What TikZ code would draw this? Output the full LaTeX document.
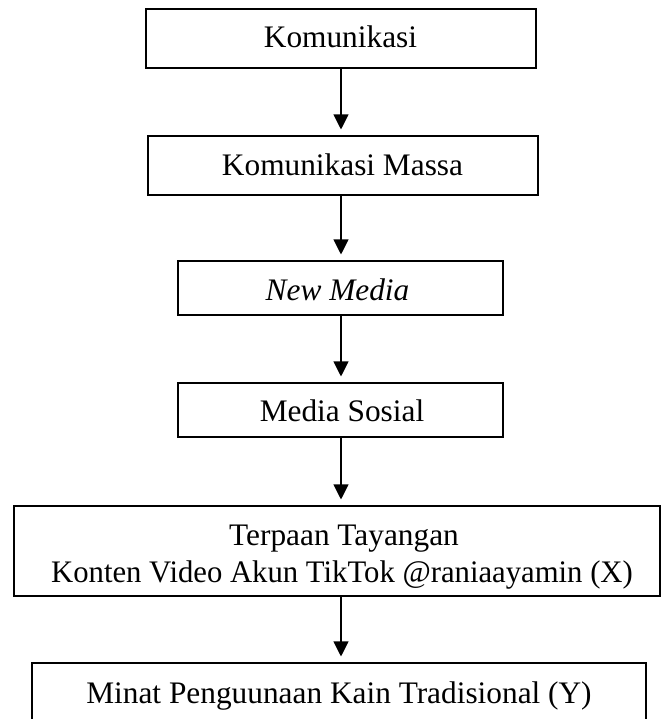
\documentclass[tikz,border=0pt]{standalone}
\usepackage{fontspec}
\setmainfont{Liberation Serif}
\usetikzlibrary{arrows.meta}
\begin{document}
\begin{tikzpicture}[x=0.75pt,y=-0.75pt,
  box/.style={draw=black, line width=0.8pt, inner sep=0pt, rectangle},
  lbl/.style={font=\fontsize{23.5}{27.75}\selectfont, inner sep=0pt, anchor=base},
  arr/.style={-{Triangle[width=11.25pt,length=11.25pt]}, line width=0.8pt, shorten >=4.5pt}]
\useasboundingbox (0,0) rectangle (661,719);
% boxes
\node[box, minimum width=292.5pt, minimum height=44.25pt] (b1) at (341,38.5) {};
\node[box, minimum width=292.5pt, minimum height=44.25pt] (b2) at (343,165.5) {};
\node[box, minimum width=243.75pt, minimum height=40.5pt] (b3) at (340.5,288) {};
\node[box, minimum width=243.75pt, minimum height=40.5pt] (b4) at (340.5,410) {};
\node[box, minimum width=484.5pt, minimum height=67.5pt] (b5) at (337,551) {};
\node[box, minimum width=460.5pt, minimum height=54pt] (b6) at (339,699) {};
% labels
\node[lbl] (t1) at (340.5,47.3) {Komunikasi};
\node[lbl] (t2) at (342.5,175) {Komunikasi Massa};
\node[lbl] (t3) at (337.5,300) {\textit{New Media}};
\node[lbl] (t4) at (342,421.7) {Media Sosial};
\node[lbl] (t5a) at (344,545) {Terpaan Tayangan};
\node[lbl] (t5b) at (342,582) {\scalebox{0.98}[1]{Konten Video Akun TikTok @raniaayamin (X)}};
\node[lbl] (t6) at (339,703) {Minat Penguunaan Kain Tradisional (Y)};
% connectors
\coordinate (ax) at (341,0);
\draw[arr] (b1.south -| ax) -- (b2.north -| ax);
\draw[arr] (b2.south -| ax) -- (b3.north -| ax);
\draw[arr] (b3.south -| ax) -- (b4.north -| ax);
\draw[arr] (b4.south -| ax) -- (b5.north -| ax);
\draw[arr] (b5.south -| ax) -- (b6.north -| ax);
\end{tikzpicture}
\end{document}
